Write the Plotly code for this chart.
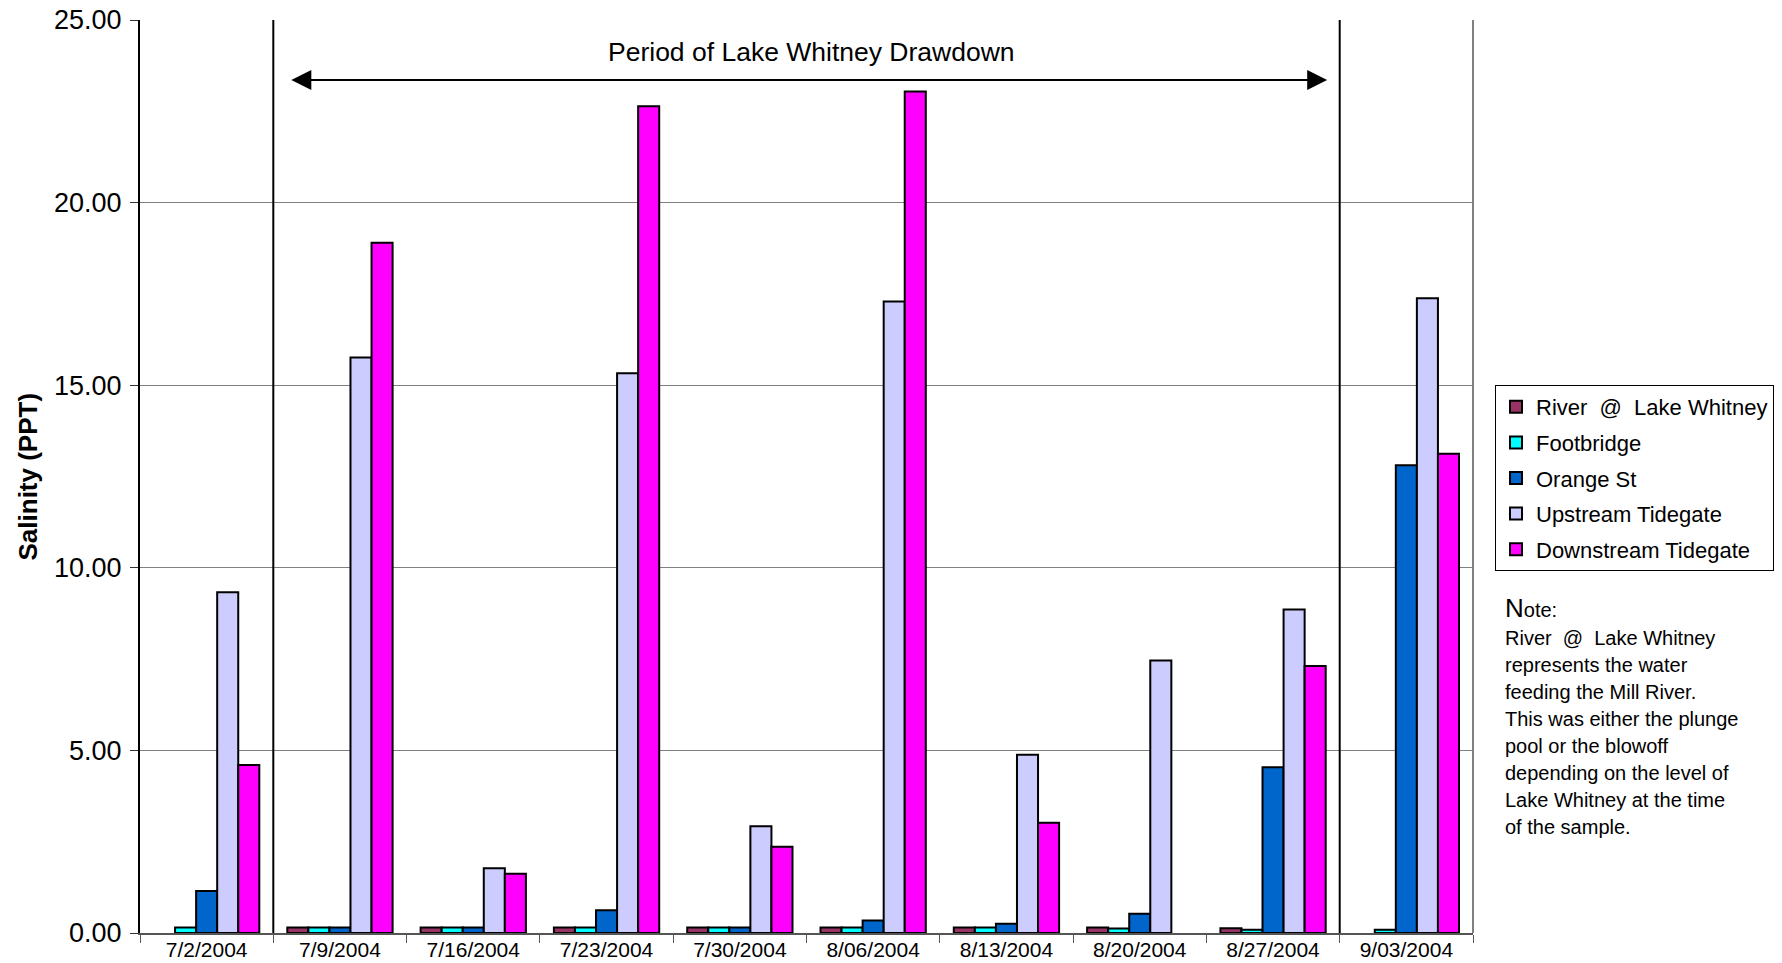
import plotly.graph_objects as go

# Sampling dates and salinity (PPT) per station
dates = ["7/2/2004", "7/9/2004", "7/16/2004", "7/23/2004", "7/30/2004",
         "8/06/2004", "8/13/2004", "8/20/2004", "8/27/2004", "9/03/2004"]

river_lake_whitney = [None, 0.15, 0.15, 0.15, 0.15, 0.15, 0.15, 0.15, 0.13, None]
footbridge = [0.15, 0.15, 0.15, 0.15, 0.15, 0.15, 0.15, 0.12, 0.09, 0.09]
orange_st = [1.15, 0.15, 0.15, 0.62, 0.15, 0.34, 0.25, 0.53, 4.54, 12.81]
upstream_tidegate = [9.33, 15.76, 1.77, 15.33, 2.92, 17.29, 4.88, 7.46, 8.86, 17.38]
downstream_tidegate = [4.60, 18.90, 1.62, 22.64, 2.36, 23.04, 3.02, None, 7.31, 13.12]

series = [
    ("River  @  Lake Whitney", river_lake_whitney, "#993366"),
    ("Footbridge", footbridge, "#00FFFF"),
    ("Orange St", orange_st, "#0066CC"),
    ("Upstream Tidegate", upstream_tidegate, "#CCCCFF"),
    ("Downstream Tidegate", downstream_tidegate, "#FF00FF"),
]

note_lines = [
    "River  @  Lake Whitney",
    "represents the water",
    "feeding the Mill River.",
    "This was either the plunge",
    "pool or the blowoff",
    "depending on the level of",
    "Lake Whitney at the time",
    "of the sample.",
]

FONT = "Liberation Sans, Arial, sans-serif"

# Page geometry (pixels) used to place items outside the plot area
W, H = 1782, 963
PL, PR, PT, PB = 140, 1473, 20, 933


def px_x(px):
    return (px - PL) / (PR - PL)


def px_y(py):
    return (PB - py) / (PB - PT)


fig = go.Figure()
for i, (name, vals, color) in enumerate(series):
    fig.add_trace(go.Bar(
        x=dates, y=vals, name=name, legendgroup=f"g{i}",
        marker=dict(color=color, line=dict(color="black", width=2)),
    ))

# Drawdown period boundaries
for xb in (0.5, 8.5):
    fig.add_shape(type="line", xref="x", yref="y", x0=xb, x1=xb, y0=0, y1=25,
                  line=dict(color="black", width=2))

# Right-hand plot border
fig.add_shape(type="line", xref="x domain", yref="y", x0=1, x1=1, y0=0, y1=25,
              line=dict(color="#808080", width=2))

# Double-headed arrow spanning the drawdown period
fig.add_annotation(x=8.406, y=23.36, ax=0.624, ay=23.36, xref="x", yref="y",
                   axref="x", ayref="y", text="", showarrow=True,
                   arrowhead=2, arrowsize=2, arrowwidth=2, arrowcolor="black",
                   arrowside="end+start", startarrowhead=2, startarrowsize=2,
                   standoff=0, startstandoff=0)
fig.add_annotation(x=4.537, y=24.12, xref="x", yref="y", text="Period of Lake Whitney Drawdown",
                   showarrow=False, font=dict(family=FONT, size=26.5, color="black"))

# Y axis title
fig.add_annotation(x=px_x(27), y=0.5, xref="paper", yref="paper", text="<b>Salinity (PPT)</b>",
                   textangle=-90, showarrow=False, xanchor="center", yanchor="middle",
                   font=dict(family=FONT, size=26, color="black"))

# Explanatory note, one annotation per line for even spacing
fig.add_annotation(x=px_x(1503), y=px_y(608), xref="paper", yref="paper",
                   text="<span style='font-size:26px'>N</span>ote:",
                   showarrow=False, xanchor="left", yanchor="middle", align="left",
                   font=dict(family=FONT, size=20, color="black"))
for k, line in enumerate(note_lines):
    fig.add_annotation(x=px_x(1503), y=px_y(637.5 + 27.1 * k), xref="paper", yref="paper",
                       text=line, showarrow=False, xanchor="left", yanchor="middle",
                       align="left", font=dict(family=FONT, size=20, color="black"))

fig.update_layout(
    width=W, height=H,
    margin=dict(l=PL, r=W - PR, t=PT, b=H - PB, autoexpand=False),
    paper_bgcolor="white", plot_bgcolor="white",
    barmode="group", bargap=0.21, bargroupgap=0,
    font=dict(family=FONT, color="black"),
    showlegend=True,
    legend=dict(x=px_x(1495), y=px_y(385), xanchor="left", yanchor="top",
                bordercolor="black", borderwidth=1, bgcolor="white",
                font=dict(family=FONT, size=22, color="black"),
                tracegroupgap=4, itemwidth=30),
)

fig.update_xaxes(
    type="category", tickson="boundaries", ticks="outside", ticklen=8,
    tickcolor="#555555", tickwidth=1, showgrid=False,
    showline=True, linecolor="#555555", linewidth=2,
    tickfont=dict(family=FONT, size=21, color="black"), automargin=False,
    ticklabelstandoff=-3, range=[-0.5, 9.5],
)
fig.update_yaxes(
    range=[0, 25], tickvals=[0, 5, 10, 15, 20, 25],
    ticktext=["0.00", "5.00", "10.00", "15.00", "20.00", "25.00"],
    ticks="outside", ticklen=8, tickcolor="#333333", tickwidth=1,
    showgrid=True, gridcolor="#808080", gridwidth=1,
    showline=True, linecolor="black", linewidth=2, zeroline=False,
    tickfont=dict(family=FONT, size=27, color="black"), automargin=False,
    ticklabelstandoff=3,
)

fig.write_html("out.html")
